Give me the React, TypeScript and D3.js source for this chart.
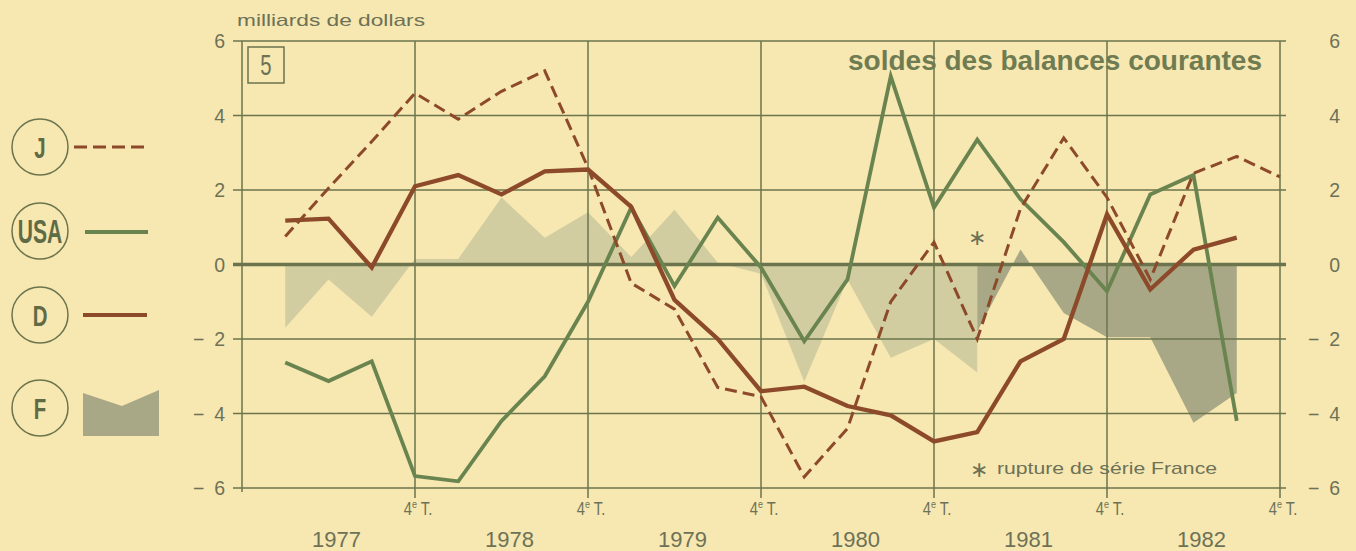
import React, { useEffect, useRef } from 'react';
import * as d3 from 'd3';

const WIDTH = 1356;
const HEIGHT = 551;

// trimestres : 1 = 1er T. 1977 ... 24 = 4e T. 1982
const years = ['1977', '1978', '1979', '1980', '1981', '1982'];
const yTicks = [-6, -4, -2, 0, 2, 4, 6];

// milliards de dollars, 1er T. 1977 -> 4e T. 1982
const japon = [0.75, 2.05, 3.3, 4.6, 3.9, 4.65, 5.2, 2.6, -0.5, -1.2, -3.3, -3.55,
  -5.7, -4.4, -1.0, 0.6, -2.0, 1.5, 3.4, 1.8, -0.4, 2.45, 2.9, 2.35];
// 1er T. 1977 -> 3e T. 1982
const usa = [-2.63, -3.13, -2.6, -5.68, -5.82, -4.2, -3.0, -1.0, 1.53, -0.58, 1.26, -0.08,
  -2.06, -0.4, 5.05, 1.53, 3.35, 1.75, 0.6, -0.72, 1.88, 2.4, -4.2];
const rfa = [1.18, 1.23, -0.08, 2.1, 2.4, 1.88, 2.5, 2.55, 1.55, -0.95, -2.0, -3.4,
  -3.28, -3.8, -4.05, -4.75, -4.5, -2.6, -2.0, 1.35, -0.67, 0.4, 0.72];
// France : ancienne série (1er T. 1977 -> 1er T. 1981), nouvelle série (1er T. 1981 -> 3e T. 1982)
const franceAvant = [-1.7, -0.4, -1.4, 0.15, 0.15, 1.8, 0.72, 1.4, 0.2, 1.47, 0.05, -0.25,
  -3.15, -0.4, -2.5, -2.0, -2.9];
const franceApres = [-1.8, 0.4, -1.3, -1.95, -1.95, -4.25, -3.45];

const BG = '#f7e7b1';
const GRID = '#6b744d';
const TEXT = '#6d7257';
const GREEN = '#6a8450';
const BROWN = '#8c4a2a';
const F_LIGHT = '#d2cda1';
const F_DARK = '#a8a886';
const SANS = '"Liberation Sans", Arial, sans-serif';

const fmt = (v: number) => (v < 0 ? `\u2212\u2002${Math.abs(v)}` : `${v}`);

export default function App() {
  const ref = useRef<SVGSVGElement>(null);

  useEffect(() => {
    const svg = d3.select(ref.current);
    svg.selectAll('*').remove();

    const x = d3.scaleLinear().domain([0, 24]).range([242, 1280]);
    const y = d3.scaleLinear().domain([-6, 6]).range([488, 41]);

    svg.append('rect').attr('width', WIDTH).attr('height', HEIGHT).attr('fill', BG);

    // aires France
    const area = d3.area<[number, number]>()
      .x((d) => x(d[0]))
      .y0(y(0))
      .y1((d) => y(d[1]));

    svg.append('path')
      .attr('fill', F_LIGHT)
      .attr('d', area(franceAvant.map((v, i) => [i + 1, v] as [number, number])));
    svg.append('path')
      .attr('fill', F_DARK)
      .attr('d', area(franceApres.map((v, i) => [i + 17, v] as [number, number])));

    // grille
    svg.selectAll('.hgrid')
      .data(yTicks)
      .enter().append('line')
      .attr('x1', 233)
      .attr('x2', 1286)
      .attr('y1', (d) => y(d))
      .attr('y2', (d) => y(d))
      .attr('stroke', GRID)
      .attr('stroke-width', (d) => (d === 0 ? 3.4 : 1.5));

    svg.selectAll('.vgrid')
      .data(d3.range(0, 25, 4))
      .enter().append('line')
      .attr('x1', (d) => x(d))
      .attr('x2', (d) => x(d))
      .attr('y1', y(6))
      .attr('y2', (d) => (d === 0 ? y(-6) + 4 : y(-6) + 10))
      .attr('stroke', GRID)
      .attr('stroke-width', 1.5);

    // axes
    svg.selectAll('.ylab-l')
      .data(yTicks)
      .enter().append('text')
      .attr('x', 225)
      .attr('y', (d) => y(d) + 7)
      .attr('text-anchor', 'end')
      .style('font-family', SANS)
      .style('font-size', '19.5px')
      .attr('fill', TEXT)
      .text(fmt);

    svg.selectAll('.ylab-r')
      .data(yTicks)
      .enter().append('text')
      .attr('x', 1340)
      .attr('y', (d) => y(d) + 7)
      .attr('text-anchor', 'end')
      .style('font-family', SANS)
      .style('font-size', '19.5px')
      .attr('fill', TEXT)
      .text(fmt);

    const q4 = svg.selectAll('.q4')
      .data(d3.range(4, 25, 4))
      .enter().append('text')
      .attr('transform', (d) => `translate(${x(d) + 3},515) scale(0.82,1)`)
      .attr('text-anchor', 'middle')
      .style('font-family', SANS)
      .style('font-size', '18px')
      .attr('fill', TEXT);
    q4.append('tspan').text('4');
    q4.append('tspan').attr('dy', -7).style('font-size', '11px').text('e');
    q4.append('tspan').attr('dy', 7).text(' T.');

    svg.selectAll('.year')
      .data(years)
      .enter().append('text')
      .attr('x', (d, i) => x(i * 4 + 2) + 8)
      .attr('y', 547)
      .attr('text-anchor', 'middle')
      .style('font-family', SANS)
      .style('font-size', '22px')
      .attr('fill', TEXT)
      .text((d) => d);

    svg.append('text')
      .attr('x', 237)
      .attr('y', 26)
      .attr('textLength', 188)
      .attr('lengthAdjust', 'spacingAndGlyphs')
      .style('font-family', SANS)
      .style('font-size', '16.5px')
      .attr('fill', TEXT)
      .text('milliards de dollars');

    // encadré "5" et titre
    svg.append('rect')
      .attr('x', 248).attr('y', 47).attr('width', 36).attr('height', 36)
      .attr('fill', 'none').attr('stroke', GRID).attr('stroke-width', 1.5);
    svg.append('text')
      .attr('transform', 'translate(266,75) scale(0.7,1)')
      .attr('text-anchor', 'middle')
      .style('font-family', SANS)
      .style('font-size', '29px')
      .attr('fill', TEXT)
      .text('5');

    svg.append('text')
      .attr('x', 848).attr('y', 70)
      .attr('textLength', 414)
      .attr('lengthAdjust', 'spacingAndGlyphs')
      .style('font-family', SANS)
      .style('font-weight', 'bold')
      .style('font-size', '27px')
      .attr('fill', '#6f7b51')
      .text('soldes des balances courantes');

    // rupture de série
    svg.append('text')
      .attr('x', 977).attr('y', 245)
      .attr('text-anchor', 'middle')
      .style('font-family', SANS)
      .style('font-size', '22px')
      .attr('fill', TEXT)
      .text('\u2217');
    svg.append('text')
      .attr('x', 979).attr('y', 477)
      .attr('text-anchor', 'middle')
      .style('font-family', SANS)
      .style('font-size', '22px')
      .attr('fill', TEXT)
      .text('\u2217');
    svg.append('text')
      .attr('x', 997).attr('y', 474)
      .attr('textLength', 220)
      .attr('lengthAdjust', 'spacingAndGlyphs')
      .style('font-family', SANS)
      .style('font-size', '17px')
      .attr('fill', TEXT)
      .text('rupture de série France');

    // courbes
    const line = d3.line<number>()
      .x((d, i) => x(i + 1))
      .y((d) => y(d));

    svg.append('path')
      .attr('d', line(usa))
      .attr('fill', 'none')
      .attr('stroke', GREEN)
      .attr('stroke-width', 3.8);
    svg.append('path')
      .attr('d', line(rfa))
      .attr('fill', 'none')
      .attr('stroke', BROWN)
      .attr('stroke-width', 4.3);
    svg.append('path')
      .attr('d', line(japon))
      .attr('fill', 'none')
      .attr('stroke', BROWN)
      .attr('stroke-width', 3)
      .attr('stroke-dasharray', '12,6');

    // légende
    const legend = [
      { key: 'J', cy: 147, size: 30 },
      { key: 'USA', cy: 231, size: 34 },
      { key: 'D', cy: 315, size: 30 },
      { key: 'F', cy: 408, size: 30 },
    ];
    const lg = svg.selectAll('.legend')
      .data(legend)
      .enter().append('g')
      .attr('transform', (d) => `translate(40,${d.cy})`);
    lg.append('circle')
      .attr('r', 28)
      .attr('fill', 'none')
      .attr('stroke', GRID)
      .attr('stroke-width', 1.5);
    lg.append('text')
      .attr('transform', (d) => `translate(0,${d.size * 0.36}) scale(${d.key === 'USA' ? 0.62 : 0.68},1)`)
      .attr('text-anchor', 'middle')
      .style('font-family', SANS)
      .style('font-weight', 'bold')
      .style('font-size', (d) => `${d.size}px`)
      .attr('fill', '#5f6b45')
      .text((d) => d.key);

    svg.append('line')
      .attr('x1', 74).attr('x2', 146).attr('y1', 147).attr('y2', 147)
      .attr('stroke', BROWN).attr('stroke-width', 3).attr('stroke-dasharray', '13,6');
    svg.append('line')
      .attr('x1', 85).attr('x2', 148).attr('y1', 232).attr('y2', 232)
      .attr('stroke', GREEN).attr('stroke-width', 4);
    svg.append('line')
      .attr('x1', 83).attr('x2', 147).attr('y1', 315).attr('y2', 315)
      .attr('stroke', BROWN).attr('stroke-width', 4);
    svg.append('path')
      .attr('d', 'M83,393L122,406L159,390L159,436L83,436Z')
      .attr('fill', F_DARK);
  }, []);

  return (
    <svg
      ref={ref}
      width={WIDTH}
      height={HEIGHT}
      style={{ position: 'absolute', left: 0, top: 0, display: 'block' }}
    />
  );
}
